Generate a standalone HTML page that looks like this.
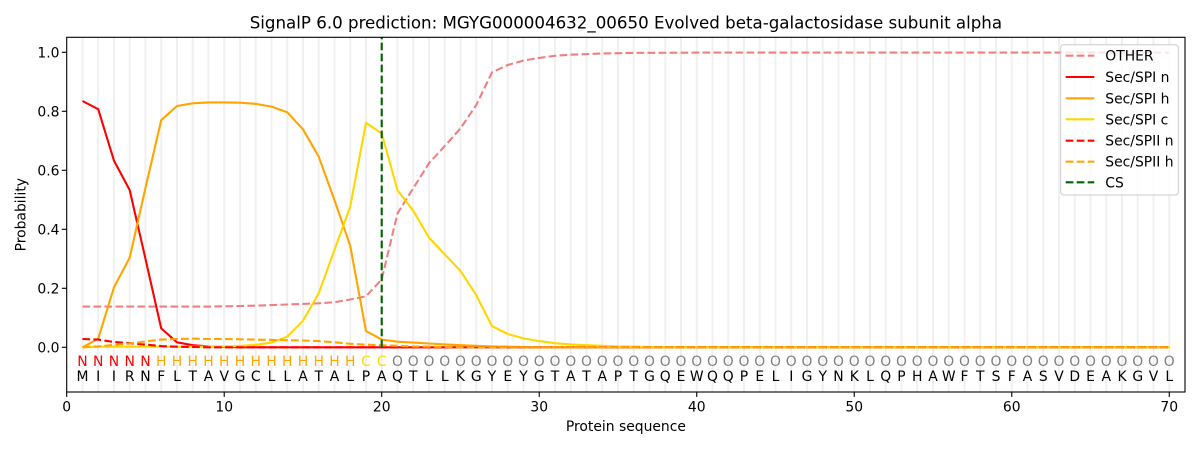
<!DOCTYPE html>
<html>
<head>
<meta charset="utf-8">
<style>
html,body{margin:0;padding:0;background:#fff;}
svg{display:block;}
text{font-family:"DejaVu Sans","Liberation Sans",sans-serif;}
</style>
</head>
<body>
<svg width="1200" height="450" viewBox="0 0 1200 450" xmlns="http://www.w3.org/2000/svg">
<rect x="0" y="0" width="1200" height="450" fill="#fff"/>
<!-- grid lines -->
<g stroke="#f0f0f0" stroke-width="2">
<line x1="82.45" y1="37.3" x2="82.45" y2="392"/><line x1="98.20" y1="37.3" x2="98.20" y2="392"/><line x1="113.95" y1="37.3" x2="113.95" y2="392"/><line x1="129.70" y1="37.3" x2="129.70" y2="392"/><line x1="145.46" y1="37.3" x2="145.46" y2="392"/><line x1="161.21" y1="37.3" x2="161.21" y2="392"/><line x1="176.96" y1="37.3" x2="176.96" y2="392"/><line x1="192.71" y1="37.3" x2="192.71" y2="392"/><line x1="208.46" y1="37.3" x2="208.46" y2="392"/><line x1="224.21" y1="37.3" x2="224.21" y2="392"/>
<line x1="239.96" y1="37.3" x2="239.96" y2="392"/><line x1="255.71" y1="37.3" x2="255.71" y2="392"/><line x1="271.46" y1="37.3" x2="271.46" y2="392"/><line x1="287.21" y1="37.3" x2="287.21" y2="392"/><line x1="302.97" y1="37.3" x2="302.97" y2="392"/><line x1="318.72" y1="37.3" x2="318.72" y2="392"/><line x1="334.47" y1="37.3" x2="334.47" y2="392"/><line x1="350.22" y1="37.3" x2="350.22" y2="392"/><line x1="365.97" y1="37.3" x2="365.97" y2="392"/><line x1="381.72" y1="37.3" x2="381.72" y2="392"/>
<line x1="397.47" y1="37.3" x2="397.47" y2="392"/><line x1="413.22" y1="37.3" x2="413.22" y2="392"/><line x1="428.97" y1="37.3" x2="428.97" y2="392"/><line x1="444.72" y1="37.3" x2="444.72" y2="392"/><line x1="460.48" y1="37.3" x2="460.48" y2="392"/><line x1="476.23" y1="37.3" x2="476.23" y2="392"/><line x1="491.98" y1="37.3" x2="491.98" y2="392"/><line x1="507.73" y1="37.3" x2="507.73" y2="392"/><line x1="523.48" y1="37.3" x2="523.48" y2="392"/><line x1="539.23" y1="37.3" x2="539.23" y2="392"/>
<line x1="554.98" y1="37.3" x2="554.98" y2="392"/><line x1="570.73" y1="37.3" x2="570.73" y2="392"/><line x1="586.48" y1="37.3" x2="586.48" y2="392"/><line x1="602.23" y1="37.3" x2="602.23" y2="392"/><line x1="617.99" y1="37.3" x2="617.99" y2="392"/><line x1="633.74" y1="37.3" x2="633.74" y2="392"/><line x1="649.49" y1="37.3" x2="649.49" y2="392"/><line x1="665.24" y1="37.3" x2="665.24" y2="392"/><line x1="680.99" y1="37.3" x2="680.99" y2="392"/><line x1="696.74" y1="37.3" x2="696.74" y2="392"/>
<line x1="712.49" y1="37.3" x2="712.49" y2="392"/><line x1="728.24" y1="37.3" x2="728.24" y2="392"/><line x1="743.99" y1="37.3" x2="743.99" y2="392"/><line x1="759.74" y1="37.3" x2="759.74" y2="392"/><line x1="775.50" y1="37.3" x2="775.50" y2="392"/><line x1="791.25" y1="37.3" x2="791.25" y2="392"/><line x1="807.00" y1="37.3" x2="807.00" y2="392"/><line x1="822.75" y1="37.3" x2="822.75" y2="392"/><line x1="838.50" y1="37.3" x2="838.50" y2="392"/><line x1="854.25" y1="37.3" x2="854.25" y2="392"/>
<line x1="870.00" y1="37.3" x2="870.00" y2="392"/><line x1="885.75" y1="37.3" x2="885.75" y2="392"/><line x1="901.50" y1="37.3" x2="901.50" y2="392"/><line x1="917.26" y1="37.3" x2="917.26" y2="392"/><line x1="933.01" y1="37.3" x2="933.01" y2="392"/><line x1="948.76" y1="37.3" x2="948.76" y2="392"/><line x1="964.51" y1="37.3" x2="964.51" y2="392"/><line x1="980.26" y1="37.3" x2="980.26" y2="392"/><line x1="996.01" y1="37.3" x2="996.01" y2="392"/><line x1="1011.76" y1="37.3" x2="1011.76" y2="392"/>
<line x1="1027.51" y1="37.3" x2="1027.51" y2="392"/><line x1="1043.26" y1="37.3" x2="1043.26" y2="392"/><line x1="1059.01" y1="37.3" x2="1059.01" y2="392"/><line x1="1074.77" y1="37.3" x2="1074.77" y2="392"/><line x1="1090.52" y1="37.3" x2="1090.52" y2="392"/><line x1="1106.27" y1="37.3" x2="1106.27" y2="392"/><line x1="1122.02" y1="37.3" x2="1122.02" y2="392"/><line x1="1137.77" y1="37.3" x2="1137.77" y2="392"/><line x1="1153.52" y1="37.3" x2="1153.52" y2="392"/><line x1="1169.27" y1="37.3" x2="1169.27" y2="392"/>
</g>

<g fill="none" stroke-width="2.1" stroke-linejoin="round">
<!-- OTHER -->
<polyline stroke="#f08080" stroke-dasharray="7.7 3.3" points="82.45,306.6 98.20,306.6 113.95,306.6 129.70,306.6 145.46,306.6 161.21,306.6 176.96,306.6 192.71,306.6 208.46,306.6 224.21,306.3 239.96,306.0 255.71,305.7 271.46,305.1 287.21,304.5 302.97,303.9 318.72,303.3 334.47,302.2 350.22,299.5 365.97,296.3 381.72,279.4 397.47,213.4 413.22,188.3 428.97,163.2 444.72,146.1 460.48,128.4 476.23,105.1 491.98,72.4 507.73,65.0 523.48,60.6 539.23,57.9 554.98,55.8 570.73,54.7 586.48,54.1 602.23,53.5 617.99,53.2 633.74,52.9 696.74,52.6 1169.27,52.6"/>
<!-- Sec/SPI n -->
<polyline stroke="#ff0000" points="82.45,101.0 98.20,109.2 113.95,160.6 129.70,190.1 145.46,258.8 161.21,328.4 176.96,342.3 192.71,345.2 208.46,346.4 224.21,347.0 239.96,347.3 1169.27,347.3"/>
<!-- Sec/SPI h -->
<polyline stroke="#ffa500" points="82.45,347.3 98.20,338.7 113.95,287.4 129.70,257.6 145.46,188.0 161.21,120.2 176.96,106.0 192.71,103.3 208.46,102.4 224.21,102.4 239.96,102.7 255.71,103.9 271.46,106.6 287.21,112.2 302.97,129.3 318.72,156.7 334.47,200.1 350.22,245.8 365.97,331.1 381.72,339.6 397.47,341.7 413.22,342.6 428.97,343.5 444.72,344.4 460.48,345.2 476.23,345.8 491.98,346.4 507.73,346.7 523.48,347.0 539.23,347.3 1169.27,347.3"/>
<!-- Sec/SPI c -->
<polyline stroke="#ffd700" points="82.45,347.3 98.20,346.7 113.95,346.7 129.70,346.7 145.46,346.7 161.21,346.7 176.96,346.7 192.71,346.7 208.46,346.7 224.21,346.4 239.96,345.8 255.71,344.9 271.46,342.6 287.21,336.7 302.97,320.7 318.72,293.3 334.47,250.0 350.22,206.6 365.97,122.8 381.72,133.4 397.47,190.1 413.22,210.7 428.97,237.6 444.72,254.4 460.48,270.9 476.23,295.1 491.98,326.1 507.73,334.0 523.48,338.4 539.23,341.1 554.98,343.2 570.73,344.4 586.48,345.2 602.23,345.8 617.99,346.4 633.74,346.7 649.49,347.0 665.24,347.3 1169.27,347.3"/>
<!-- Sec/SPII n -->
<polyline stroke="#ff0000" stroke-dasharray="7.7 3.3" points="82.45,339.0 98.20,339.6 113.95,342.0 129.70,343.2 145.46,344.6 161.21,346.1 176.96,346.7 192.71,347.0 208.46,347.3 1169.27,347.3"/>
<!-- Sec/SPII h -->
<polyline stroke="#ffa500" stroke-dasharray="7.7 3.3" points="82.45,347.3 98.20,346.4 113.95,344.9 129.70,343.5 145.46,341.4 161.21,339.6 176.96,339.0 192.71,338.7 208.46,339.0 224.21,339.0 239.96,339.3 255.71,339.6 271.46,339.9 287.21,340.2 302.97,340.5 318.72,341.1 334.47,342.3 350.22,343.8 365.97,344.6 381.72,345.2 397.47,345.8 413.22,346.4 428.97,346.7 444.72,347.0 460.48,347.3 1169.27,347.3"/>
<!-- CS -->
<line x1="381.72" y1="347.3" x2="381.72" y2="37.3" stroke="#006400" stroke-dasharray="7.7 3.3"/>
</g>

<!-- state letters -->
<g font-size="13.9" text-anchor="middle">
<text x="82.45" y="366" fill="#ff0000">N</text><text x="98.20" y="366" fill="#ff0000">N</text><text x="113.95" y="366" fill="#ff0000">N</text><text x="129.70" y="366" fill="#ff0000">N</text><text x="145.46" y="366" fill="#ff0000">N</text>
<g fill="#ffa500"><text x="161.21" y="366">H</text><text x="176.96" y="366">H</text><text x="192.71" y="366">H</text><text x="208.46" y="366">H</text><text x="224.21" y="366">H</text><text x="239.96" y="366">H</text><text x="255.71" y="366">H</text><text x="271.46" y="366">H</text><text x="287.21" y="366">H</text><text x="302.97" y="366">H</text><text x="318.72" y="366">H</text><text x="334.47" y="366">H</text><text x="350.22" y="366">H</text></g>
<text x="365.97" y="366" fill="#ffd700">C</text><text x="381.72" y="366" fill="#ffd700">C</text>
<g fill="#808080">
<text x="397.47" y="366">O</text><text x="413.22" y="366">O</text><text x="428.97" y="366">O</text><text x="444.72" y="366">O</text><text x="460.48" y="366">O</text><text x="476.23" y="366">O</text><text x="491.98" y="366">O</text><text x="507.73" y="366">O</text><text x="523.48" y="366">O</text><text x="539.23" y="366">O</text>
<text x="554.98" y="366">O</text><text x="570.73" y="366">O</text><text x="586.48" y="366">O</text><text x="602.23" y="366">O</text><text x="617.99" y="366">O</text><text x="633.74" y="366">O</text><text x="649.49" y="366">O</text><text x="665.24" y="366">O</text><text x="680.99" y="366">O</text><text x="696.74" y="366">O</text>
<text x="712.49" y="366">O</text><text x="728.24" y="366">O</text><text x="743.99" y="366">O</text><text x="759.74" y="366">O</text><text x="775.50" y="366">O</text><text x="791.25" y="366">O</text><text x="807.00" y="366">O</text><text x="822.75" y="366">O</text><text x="838.50" y="366">O</text><text x="854.25" y="366">O</text>
<text x="870.00" y="366">O</text><text x="885.75" y="366">O</text><text x="901.50" y="366">O</text><text x="917.26" y="366">O</text><text x="933.01" y="366">O</text><text x="948.76" y="366">O</text><text x="964.51" y="366">O</text><text x="980.26" y="366">O</text><text x="996.01" y="366">O</text><text x="1011.76" y="366">O</text>
<text x="1027.51" y="366">O</text><text x="1043.26" y="366">O</text><text x="1059.01" y="366">O</text><text x="1074.77" y="366">O</text><text x="1090.52" y="366">O</text><text x="1106.27" y="366">O</text><text x="1122.02" y="366">O</text><text x="1137.77" y="366">O</text><text x="1153.52" y="366">O</text><text x="1169.27" y="366">O</text>
</g>
</g>

<!-- amino acids -->
<g font-size="13.9" text-anchor="middle" fill="#000">
<text x="82.45" y="381">M</text><text x="98.20" y="381">I</text><text x="113.95" y="381">I</text><text x="129.70" y="381">R</text><text x="145.46" y="381">N</text><text x="161.21" y="381">F</text><text x="176.96" y="381">L</text><text x="192.71" y="381">T</text><text x="208.46" y="381">A</text><text x="224.21" y="381">V</text>
<text x="239.96" y="381">G</text><text x="255.71" y="381">C</text><text x="271.46" y="381">L</text><text x="287.21" y="381">L</text><text x="302.97" y="381">A</text><text x="318.72" y="381">T</text><text x="334.47" y="381">A</text><text x="350.22" y="381">L</text><text x="365.97" y="381">P</text><text x="381.72" y="381">A</text>
<text x="397.47" y="381">Q</text><text x="413.22" y="381">T</text><text x="428.97" y="381">L</text><text x="444.72" y="381">L</text><text x="460.48" y="381">K</text><text x="476.23" y="381">G</text><text x="491.98" y="381">Y</text><text x="507.73" y="381">E</text><text x="523.48" y="381">Y</text><text x="539.23" y="381">G</text>
<text x="554.98" y="381">T</text><text x="570.73" y="381">A</text><text x="586.48" y="381">T</text><text x="602.23" y="381">A</text><text x="617.99" y="381">P</text><text x="633.74" y="381">T</text><text x="649.49" y="381">G</text><text x="665.24" y="381">Q</text><text x="680.99" y="381">E</text><text x="696.74" y="381">W</text>
<text x="712.49" y="381">Q</text><text x="728.24" y="381">Q</text><text x="743.99" y="381">P</text><text x="759.74" y="381">E</text><text x="775.50" y="381">L</text><text x="791.25" y="381">I</text><text x="807.00" y="381">G</text><text x="822.75" y="381">Y</text><text x="838.50" y="381">N</text><text x="854.25" y="381">K</text>
<text x="870.00" y="381">L</text><text x="885.75" y="381">Q</text><text x="901.50" y="381">P</text><text x="917.26" y="381">H</text><text x="933.01" y="381">A</text><text x="948.76" y="381">W</text><text x="964.51" y="381">F</text><text x="980.26" y="381">T</text><text x="996.01" y="381">S</text><text x="1011.76" y="381">F</text>
<text x="1027.51" y="381">A</text><text x="1043.26" y="381">S</text><text x="1059.01" y="381">V</text><text x="1074.77" y="381">D</text><text x="1090.52" y="381">E</text><text x="1106.27" y="381">A</text><text x="1122.02" y="381">K</text><text x="1137.77" y="381">G</text><text x="1153.52" y="381">V</text><text x="1169.27" y="381">L</text>
</g>

<!-- axes frame -->
<rect x="66.7" y="37.3" width="1118.3" height="354.7" fill="none" stroke="#000" stroke-width="1.1"/>

<!-- y ticks -->
<g stroke="#000" stroke-width="1.1">
<line x1="61.8" y1="347.3" x2="66.7" y2="347.3"/><line x1="61.8" y1="288.3" x2="66.7" y2="288.3"/><line x1="61.8" y1="229.3" x2="66.7" y2="229.3"/><line x1="61.8" y1="170.3" x2="66.7" y2="170.3"/><line x1="61.8" y1="111.3" x2="66.7" y2="111.3"/><line x1="61.8" y1="52.3" x2="66.7" y2="52.3"/>
<line x1="66.7" y1="392" x2="66.7" y2="396.9"/><line x1="224.21" y1="392" x2="224.21" y2="396.9"/><line x1="381.72" y1="392" x2="381.72" y2="396.9"/><line x1="539.23" y1="392" x2="539.23" y2="396.9"/><line x1="696.74" y1="392" x2="696.74" y2="396.9"/><line x1="854.25" y1="392" x2="854.25" y2="396.9"/><line x1="1011.76" y1="392" x2="1011.76" y2="396.9"/><line x1="1169.27" y1="392" x2="1169.27" y2="396.9"/>
</g>
<g font-size="13.9" fill="#000" text-anchor="end">
<text x="59.5" y="352.3">0.0</text><text x="59.5" y="293.3">0.2</text><text x="59.5" y="234.3">0.4</text><text x="59.5" y="175.3">0.6</text><text x="59.5" y="116.3">0.8</text><text x="59.5" y="57.3">1.0</text>
</g>
<g font-size="13.9" fill="#000" text-anchor="middle">
<text x="66.7" y="411.7">0</text><text x="224.21" y="411.7">10</text><text x="381.72" y="411.7">20</text><text x="539.23" y="411.7">30</text><text x="696.74" y="411.7">40</text><text x="854.25" y="411.7">50</text><text x="1011.76" y="411.7">60</text><text x="1169.27" y="411.7">70</text>
<text x="625.9" y="431">Protein sequence</text>
<text transform="translate(25.5,214.7) rotate(-90)" x="0" y="0">Probability</text>
</g>
<text x="625.9" y="28.7" font-size="16.67" text-anchor="middle" fill="#000">SignalP 6.0 prediction: MGYG000004632_00650 Evolved beta-galactosidase subunit alpha</text>

<!-- legend -->
<rect x="1060.7" y="44.7" width="117.6" height="150.3" rx="3" ry="3" fill="#fff" fill-opacity="0.8" stroke="#cccccc" stroke-width="1"/>
<g stroke-width="2.1" fill="none">
<line x1="1065.7" y1="55.7" x2="1094.3" y2="55.7" stroke="#f08080" stroke-dasharray="7.7 3.3"/>
<line x1="1065.7" y1="77" x2="1094.3" y2="77" stroke="#ff0000"/>
<line x1="1065.7" y1="98.3" x2="1094.3" y2="98.3" stroke="#ffa500"/>
<line x1="1065.7" y1="119.3" x2="1094.3" y2="119.3" stroke="#ffd700"/>
<line x1="1065.7" y1="140.7" x2="1094.3" y2="140.7" stroke="#ff0000" stroke-dasharray="7.7 3.3"/>
<line x1="1065.7" y1="161.7" x2="1094.3" y2="161.7" stroke="#ffa500" stroke-dasharray="7.7 3.3"/>
<line x1="1065.7" y1="182.3" x2="1094.3" y2="182.3" stroke="#006400" stroke-dasharray="7.7 3.3"/>
</g>
<g font-size="13.9" fill="#000">
<text x="1105.3" y="60.7">OTHER</text>
<text x="1105.3" y="82">Sec/SPI n</text>
<text x="1105.3" y="103.3">Sec/SPI h</text>
<text x="1105.3" y="124.3">Sec/SPI c</text>
<text x="1105.3" y="145.7">Sec/SPII n</text>
<text x="1105.3" y="166.7">Sec/SPII h</text>
<text x="1105.3" y="187.3">CS</text>
</g>
</svg>
</body>
</html>
